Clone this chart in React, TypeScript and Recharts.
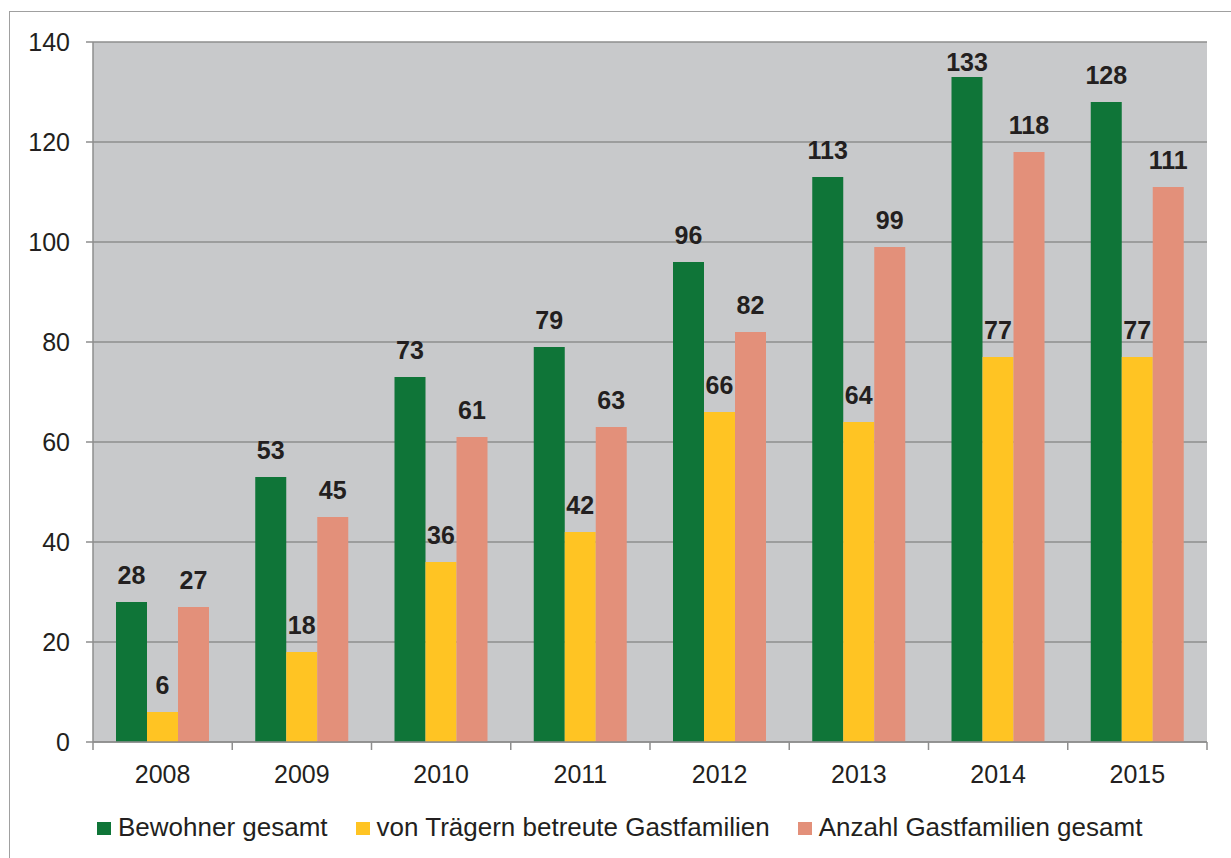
import { BarChart, Bar, XAxis, YAxis, CartesianGrid, LabelList } from 'recharts';

const years = ['2008', '2009', '2010', '2011', '2012', '2013', '2014', '2015'];
const bewohner = [28, 53, 73, 79, 96, 113, 133, 128];
const traeger = [6, 18, 36, 42, 66, 64, 77, 77];
const gastfamilien = [27, 45, 61, 63, 82, 99, 118, 111];
const yTicks = [0, 20, 40, 60, 80, 100, 120, 140];

const FONT = '"Liberation Sans", Arial, sans-serif';
const TEXT = '#231f20';
const AXIS = '#8e8e8e';

const series = [
  { key: 'bewohner', name: 'Bewohner gesamt', color: '#0f7538' },
  { key: 'traeger', name: 'von Trägern betreute Gastfamilien', color: '#ffc423' },
  { key: 'gast', name: 'Anzahl Gastfamilien gesamt', color: '#e3907a' },
];

const data = years.map((year, i) => ({
  year,
  bewohner: bewohner[i],
  traeger: traeger[i],
  gast: gastfamilien[i],
}));

// x ticks sit between the categories, so draw them from the tick position
const YearTick = (props: any) => {
  const { x, y, payload, index, visibleTicksCount } = props;
  const half = payload?.offset ?? 69.6;
  const isLast = index === visibleTicksCount - 1;
  return (
    <g>
      <line x1={x - half} x2={x - half} y1={y - 8} y2={y} stroke={AXIS} strokeWidth={1.5} />
      {isLast && <line x1={x + half} x2={x + half} y1={y - 8} y2={y} stroke={AXIS} strokeWidth={1.5} />}
      <text x={x} y={y} dy={33} textAnchor="middle" fill={TEXT} fontSize={25} fontFamily={FONT}>
        {payload.value}
      </text>
    </g>
  );
};

// value label above the bar; pushed down a bit when it would leave the plot (like the 133)
const ValueLabel = (props: any) => {
  const { x, y, width, value } = props;
  const baseline = Math.max(y - 18, 71);
  return (
    <text
      x={x + width / 2}
      y={baseline}
      textAnchor="middle"
      fill={TEXT}
      fontSize={25}
      fontWeight="bold"
      fontFamily={FONT}
    >
      {value}
    </text>
  );
};

export default function App() {
  return (
    <div
      style={{
        position: 'absolute',
        left: 0,
        top: 0,
        width: 1231,
        height: 858,
        overflow: 'hidden',
        background: '#fff',
        fontFamily: FONT,
      }}
    >
      {/* outer frame, only left/top edges are visible */}
      <div
        style={{
          position: 'absolute',
          left: 9,
          top: 11,
          width: 1300,
          height: 900,
          borderLeft: '1px solid #a0a0a0',
          borderTop: '1px solid #a0a0a0',
        }}
      />

      <BarChart
        width={1231}
        height={858}
        data={data}
        margin={{ top: 42, right: 24, left: 0, bottom: 56 }}
        barCategoryGap={23}
        barGap={0}
        style={{ position: 'absolute', left: 0, top: 0 }}
      >
        <CartesianGrid vertical={false} fill="#c8c9cb" stroke={AXIS} strokeWidth={1.5} />
        <XAxis
          dataKey="year"
          height={60}
          tickSize={8}
          tickMargin={0}
          tickLine={false}
          axisLine={{ stroke: AXIS, strokeWidth: 1.5 }}
          tick={<YearTick />}
          interval={0}
        />
        <YAxis
          width={93}
          domain={[0, 140]}
          ticks={yTicks}
          tickSize={7}
          tickMargin={16}
          tickLine={{ stroke: AXIS, strokeWidth: 1.5 }}
          axisLine={{ stroke: AXIS, strokeWidth: 1.5 }}
          tick={{ fill: TEXT, fontSize: 25, fontFamily: FONT }}
        />
        {series.map((s) => (
          <Bar key={s.key} dataKey={s.key} name={s.name} fill={s.color} barSize={31} isAnimationActive={false}>
            <LabelList dataKey={s.key} content={<ValueLabel />} />
          </Bar>
        ))}
      </BarChart>

      {/* legend */}
      <div
        style={{
          position: 'absolute',
          left: 97,
          top: 815,
          display: 'flex',
          alignItems: 'flex-start',
          fontSize: 26,
          lineHeight: '25px',
          color: TEXT,
          whiteSpace: 'nowrap',
        }}
      >
        {series.map((s) => (
          <div key={s.key} style={{ display: 'flex', alignItems: 'flex-start', marginRight: 28 }}>
            <span
              style={{
                display: 'inline-block',
                width: 14,
                height: 13,
                marginTop: 7,
                marginRight: 7,
                background: s.color,
              }}
            />
            <span>{s.name}</span>
          </div>
        ))}
      </div>
    </div>
  );
}
